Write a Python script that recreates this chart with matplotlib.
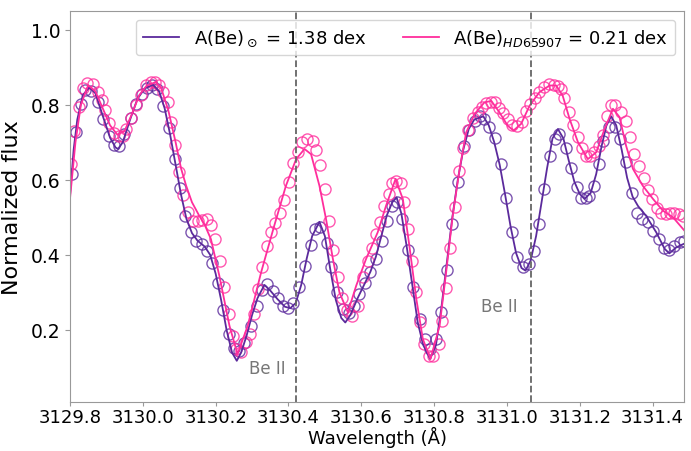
import matplotlib.pyplot as plt

plt.rcParams['font.family'] = 'DejaVu Sans'
plt.rcParams['font.size'] = 14
plt.rcParams['xtick.labelsize'] = 13
plt.rcParams['ytick.labelsize'] = 13.5
plt.rcParams['axes.labelsize'] = 15
plt.rcParams['legend.fontsize'] = 13

# observed spectra: Sun
wl_sun_obs = [3129.805, 3129.816, 3129.830, 3129.842, 3129.858, 3129.878, 3129.892, 3129.906,
              3129.922, 3129.934, 3129.949, 3129.968, 3129.981, 3129.998, 3130.012, 3130.025,
              3130.040, 3130.056, 3130.071, 3130.087, 3130.102, 3130.117, 3130.132, 3130.146,
              3130.163, 3130.176, 3130.190, 3130.206, 3130.221, 3130.236, 3130.251, 3130.265,
              3130.279, 3130.297, 3130.313, 3130.327, 3130.341, 3130.357, 3130.371, 3130.384,
              3130.398, 3130.413, 3130.430, 3130.446, 3130.462, 3130.474, 3130.487, 3130.505,
              3130.517, 3130.533, 3130.549, 3130.566, 3130.581, 3130.595, 3130.611, 3130.624,
              3130.639, 3130.657, 3130.670, 3130.685, 3130.697, 3130.712, 3130.728, 3130.743,
              3130.760, 3130.775, 3130.789, 3130.804, 3130.819, 3130.835, 3130.849, 3130.865,
              3130.881, 3130.895, 3130.911, 3130.925, 3130.938, 3130.952, 3130.968, 3130.984,
              3130.998, 3131.014, 3131.027, 3131.044, 3131.060, 3131.073, 3131.089, 3131.103,
              3131.117, 3131.131, 3131.144, 3131.163, 3131.176, 3131.192, 3131.204, 3131.216,
              3131.226, 3131.238, 3131.252, 3131.265, 3131.280, 3131.296, 3131.311, 3131.327,
              3131.344, 3131.357, 3131.371, 3131.387, 3131.402, 3131.417, 3131.430, 3131.445,
              3131.460, 3131.475, 3131.485]
fl_sun_obs = [0.615, 0.727, 0.802, 0.840, 0.837, 0.806, 0.762, 0.716,
              0.693, 0.689, 0.722, 0.764, 0.802, 0.828, 0.845, 0.851,
              0.842, 0.797, 0.737, 0.655, 0.577, 0.504, 0.460, 0.438,
              0.429, 0.411, 0.378, 0.325, 0.254, 0.189, 0.151, 0.145,
              0.165, 0.211, 0.263, 0.307, 0.322, 0.305, 0.284, 0.265,
              0.258, 0.272, 0.314, 0.370, 0.426, 0.469, 0.473, 0.432,
              0.367, 0.300, 0.256, 0.245, 0.263, 0.296, 0.325, 0.355,
              0.389, 0.438, 0.491, 0.531, 0.542, 0.496, 0.414, 0.314,
              0.229, 0.175, 0.150, 0.176, 0.249, 0.361, 0.482, 0.595,
              0.689, 0.733, 0.757, 0.771, 0.762, 0.740, 0.710, 0.642,
              0.551, 0.460, 0.394, 0.367, 0.376, 0.411, 0.482, 0.575,
              0.662, 0.709, 0.722, 0.684, 0.631, 0.580, 0.551, 0.551,
              0.556, 0.583, 0.642, 0.704, 0.740, 0.740, 0.709, 0.646,
              0.565, 0.512, 0.496, 0.487, 0.464, 0.442, 0.418, 0.414,
              0.424, 0.435, 0.438]

# observed spectra: HD 65907
wl_hd_obs = [3129.803, 3129.812, 3129.826, 3129.835, 3129.847, 3129.862, 3129.876, 3129.888,
             3129.897, 3129.908, 3129.922, 3129.934, 3129.945, 3129.954, 3129.968, 3129.981,
             3129.995, 3130.009, 3130.022, 3130.034, 3130.045, 3130.056, 3130.068, 3130.077,
             3130.087, 3130.099, 3130.111, 3130.124, 3130.137, 3130.151, 3130.163, 3130.176,
             3130.187, 3130.199, 3130.212, 3130.224, 3130.236, 3130.247, 3130.256, 3130.270,
             3130.282, 3130.293, 3130.306, 3130.316, 3130.327, 3130.340, 3130.352, 3130.364,
             3130.377, 3130.389, 3130.401, 3130.413, 3130.426, 3130.437, 3130.450, 3130.466,
             3130.476, 3130.487, 3130.499, 3130.511, 3130.522, 3130.535, 3130.547, 3130.560,
             3130.575, 3130.590, 3130.604, 3130.618, 3130.630, 3130.641, 3130.652, 3130.663,
             3130.676, 3130.685, 3130.696, 3130.709, 3130.718, 3130.728, 3130.740, 3130.749,
             3130.762, 3130.773, 3130.785, 3130.798, 3130.813, 3130.822, 3130.833, 3130.844,
             3130.856, 3130.868, 3130.879, 3130.893, 3130.906, 3130.920, 3130.932, 3130.943,
             3130.957, 3130.968, 3130.979, 3130.990, 3131.002, 3131.014, 3131.027, 3131.042,
             3131.053, 3131.064, 3131.076, 3131.089, 3131.103, 3131.115, 3131.128, 3131.140,
             3131.149, 3131.158, 3131.170, 3131.181, 3131.195, 3131.207, 3131.218, 3131.229,
             3131.240, 3131.252, 3131.263, 3131.274, 3131.286, 3131.298, 3131.314, 3131.327,
             3131.338, 3131.350, 3131.362, 3131.375, 3131.387, 3131.399, 3131.412, 3131.424,
             3131.437, 3131.448, 3131.460, 3131.472, 3131.483]
fl_hd_obs = [0.642, 0.731, 0.793, 0.844, 0.858, 0.855, 0.833, 0.813,
             0.787, 0.751, 0.725, 0.716, 0.717, 0.735, 0.764, 0.800,
             0.826, 0.851, 0.861, 0.861, 0.851, 0.833, 0.808, 0.753,
             0.693, 0.620, 0.560, 0.513, 0.491, 0.491, 0.494, 0.496,
             0.480, 0.442, 0.385, 0.314, 0.243, 0.185, 0.149, 0.142,
             0.167, 0.189, 0.243, 0.309, 0.367, 0.424, 0.462, 0.485,
             0.512, 0.547, 0.593, 0.645, 0.673, 0.701, 0.709, 0.704,
             0.680, 0.639, 0.575, 0.491, 0.414, 0.340, 0.284, 0.254,
             0.238, 0.265, 0.340, 0.385, 0.418, 0.456, 0.488, 0.531,
             0.562, 0.591, 0.598, 0.591, 0.542, 0.469, 0.385, 0.300,
             0.220, 0.163, 0.130, 0.130, 0.163, 0.225, 0.311, 0.418,
             0.527, 0.624, 0.684, 0.733, 0.764, 0.780, 0.793, 0.805,
             0.808, 0.808, 0.790, 0.778, 0.762, 0.746, 0.742, 0.755,
             0.784, 0.802, 0.817, 0.833, 0.846, 0.855, 0.851, 0.849,
             0.842, 0.817, 0.780, 0.746, 0.713, 0.684, 0.664, 0.663,
             0.673, 0.689, 0.719, 0.769, 0.799, 0.799, 0.781, 0.757,
             0.713, 0.669, 0.636, 0.604, 0.574, 0.549, 0.524, 0.512,
             0.509, 0.512, 0.512, 0.509, 0.503]

# synthetic spectrum, A(Be) = 1.38
wl_sun_syn = [3129.800, 3129.810, 3129.820, 3129.835, 3129.853, 3129.870, 3129.890, 3129.910,
              3129.925, 3129.932, 3129.945, 3129.965, 3129.985, 3130.005, 3130.028, 3130.045,
              3130.060, 3130.075, 3130.090, 3130.105, 3130.120, 3130.135, 3130.150, 3130.170,
              3130.185, 3130.200, 3130.215, 3130.230, 3130.245, 3130.258, 3130.270, 3130.285,
              3130.300, 3130.315, 3130.334, 3130.350, 3130.370, 3130.390, 3130.405, 3130.420,
              3130.435, 3130.450, 3130.465, 3130.485, 3130.500, 3130.515, 3130.530, 3130.545,
              3130.556, 3130.570, 3130.590, 3130.610, 3130.625, 3130.640, 3130.655, 3130.670,
              3130.685, 3130.697, 3130.710, 3130.725, 3130.740, 3130.755, 3130.770, 3130.789,
              3130.805, 3130.820, 3130.835, 3130.850, 3130.865, 3130.880, 3130.895, 3130.910,
              3130.935, 3130.950, 3130.965, 3130.980, 3130.995, 3131.010, 3131.025, 3131.040,
              3131.051, 3131.065, 3131.080, 3131.095, 3131.110, 3131.125, 3131.140, 3131.155,
              3131.170, 3131.185, 3131.200, 3131.213, 3131.230, 3131.245, 3131.260, 3131.273,
              3131.286, 3131.300, 3131.315, 3131.330, 3131.345, 3131.360, 3131.382, 3131.410,
              3131.433, 3131.446, 3131.465, 3131.487]
fl_sun_syn = [0.558, 0.680, 0.760, 0.825, 0.846, 0.830, 0.770, 0.712,
              0.686, 0.682, 0.700, 0.760, 0.815, 0.843, 0.853, 0.835,
              0.790, 0.720, 0.640, 0.560, 0.495, 0.458, 0.438, 0.422,
              0.400, 0.350, 0.280, 0.200, 0.140, 0.118, 0.140, 0.185,
              0.240, 0.285, 0.320, 0.305, 0.282, 0.262, 0.258, 0.272,
              0.320, 0.390, 0.450, 0.488, 0.450, 0.360, 0.280, 0.232,
              0.220, 0.240, 0.285, 0.325, 0.355, 0.395, 0.450, 0.505,
              0.540, 0.553, 0.510, 0.420, 0.320, 0.220, 0.160, 0.123,
              0.160, 0.260, 0.380, 0.500, 0.600, 0.680, 0.735, 0.760,
              0.769, 0.745, 0.700, 0.640, 0.560, 0.475, 0.405, 0.365,
              0.358, 0.385, 0.450, 0.540, 0.630, 0.710, 0.735, 0.710,
              0.650, 0.595, 0.562, 0.549, 0.565, 0.615, 0.690, 0.744,
              0.769, 0.745, 0.680, 0.605, 0.555, 0.530, 0.504, 0.460,
              0.416, 0.404, 0.420, 0.430]

# synthetic spectrum, A(Be) = 0.21
wl_hd_syn = [3129.800, 3129.815, 3129.830, 3129.850, 3129.870, 3129.890, 3129.910, 3129.930,
             3129.950, 3129.970, 3129.990, 3130.010, 3130.035, 3130.050, 3130.070, 3130.090,
             3130.105, 3130.119, 3130.135, 3130.155, 3130.170, 3130.187, 3130.210, 3130.238,
             3130.260, 3130.288, 3130.325, 3130.361, 3130.393, 3130.421, 3130.444, 3130.462,
             3130.485, 3130.503, 3130.522, 3130.540, 3130.563, 3130.586, 3130.613, 3130.645,
             3130.668, 3130.694, 3130.714, 3130.732, 3130.751, 3130.769, 3130.790, 3130.815,
             3130.833, 3130.851, 3130.870, 3130.888, 3130.911, 3130.938, 3130.957, 3130.979,
             3131.002, 3131.018, 3131.039, 3131.062, 3131.089, 3131.117, 3131.135, 3131.153,
             3131.172, 3131.195, 3131.222, 3131.245, 3131.268, 3131.291, 3131.309, 3131.327,
             3131.346, 3131.373, 3131.401, 3131.428, 3131.456, 3131.487]
fl_hd_syn = [0.550, 0.700, 0.800, 0.852, 0.835, 0.790, 0.745, 0.720,
             0.730, 0.775, 0.825, 0.850, 0.860, 0.845, 0.785, 0.700,
             0.630, 0.584, 0.540, 0.504, 0.480, 0.442, 0.345, 0.211,
             0.136, 0.211, 0.354, 0.478, 0.584, 0.655, 0.682, 0.668,
             0.584, 0.496, 0.389, 0.300, 0.247, 0.318, 0.389, 0.460,
             0.531, 0.602, 0.549, 0.424, 0.283, 0.176, 0.123, 0.211,
             0.354, 0.504, 0.629, 0.726, 0.775, 0.806, 0.810, 0.780,
             0.744, 0.731, 0.749, 0.797, 0.833, 0.851, 0.851, 0.824,
             0.762, 0.700, 0.655, 0.673, 0.735, 0.789, 0.767, 0.691,
             0.629, 0.584, 0.549, 0.518, 0.500, 0.465]

be_lines = [3130.42, 3131.065]
be_label_x = [3130.343, 3130.978]
be_label_y = [0.10, 0.263]

purple = '#5b2a9c'
pink = '#ff2d9c'

fig, ax = plt.subplots(figsize=(6.91, 4.52), dpi=100)
fig.subplots_adjust(left=0.1013, right=0.9903, bottom=0.109, top=0.974)

ax.plot(wl_sun_obs, fl_sun_obs, 'o', mfc='none', mec=purple, ms=8, mew=1.0, alpha=0.8)
ax.plot(wl_hd_obs, fl_hd_obs, 'o', mfc='none', mec=pink, ms=8, mew=1.0, alpha=0.8)
ax.plot(wl_sun_syn, fl_sun_syn, '-', color=purple, lw=1.3, label=r'A(Be)$_\odot$ = 1.38 dex')
ax.plot(wl_hd_syn, fl_hd_syn, '-', color=pink, lw=1.3, label=r'A(Be)$_{HD65907}$ = 0.21 dex')

for w in be_lines:
    ax.axvline(w, color='#666666', ls='--', lw=1.3)
for x, y in zip(be_label_x, be_label_y):
    ax.text(x, y, 'Be II', color='#777777', fontsize=12, ha='center', va='center')

ax.set_xlim(3129.8, 3131.487)
ax.set_ylim(0.009, 1.05)
ax.set_xticks([3129.8, 3130.0, 3130.2, 3130.4, 3130.6, 3130.8, 3131.0, 3131.2, 3131.4])
ax.set_xticklabels(['3129.8', '3130.0', '3130.2', '3130.4', '3130.6', '3130.8',
                    '3131.0', '3131.2', '3131.4'])
ax.set_yticks([0.2, 0.4, 0.6, 0.8, 1.0])
ax.tick_params(axis='x', pad=1.5, length=3)
ax.set_xlabel('Wavelength (Å)', fontsize=13, labelpad=0)
ax.set_ylabel('Normalized flux', fontsize=16, labelpad=6)
for s in ax.spines.values():
    s.set_color('#999999')
ax.tick_params(color='#999999')

ax.legend(loc='upper right', ncol=2)

plt.savefig('out.png', dpi=100)
